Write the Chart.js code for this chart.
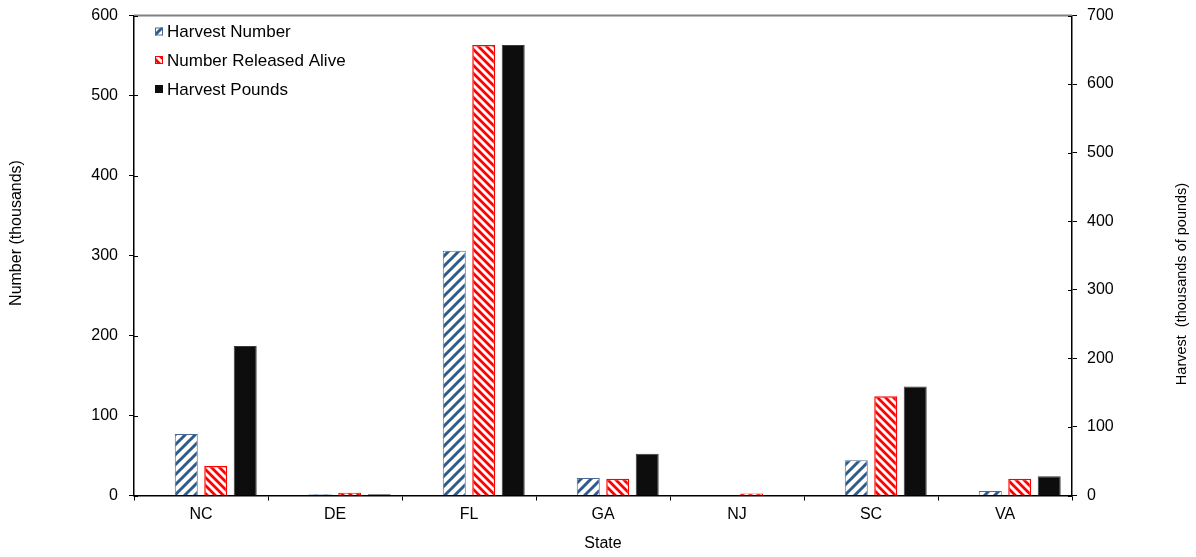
<!DOCTYPE html>
<html>
<head>
<meta charset="utf-8">
<script src="https://cdn.jsdelivr.net/npm/chart.js@4.4.1/dist/chart.umd.min.js"></script>
<style>
  html, body { margin: 0; padding: 0; background: #ffffff; }
  canvas { display: block; }
</style>
</head>
<body>
<canvas id="c" width="1196" height="557"></canvas>
<script>
// ---- data ----
const states = ["NC", "DE", "FL", "GA", "NJ", "SC", "VA"];
const harvestNumber = [77, 1.5, 306, 22, 0, 44, 5.5];      // thousands (left axis)
const releasedAlive = [37, 3.5, 563, 21, 2.5, 124, 21];    // thousands (left axis)
const harvestPounds = [218, 2, 657, 61, 0, 159, 28];       // thousands of pounds (right axis)
const leftTicks = [0, 100, 200, 300, 400, 500, 600];
const rightTicks = [0, 100, 200, 300, 400, 500, 600, 700];
const seriesNames = ["Harvest Number", "Number Released Alive", "Harvest Pounds"];
const leftTitle = "Number (thousands)";
const rightTitle = "Harvest  (thousands of pounds)";

const FONT = "'Liberation Sans', Arial, sans-serif";

function makeHatch(color, forward, size, lw) {
  const c = document.createElement('canvas');
  c.width = size; c.height = size;
  const g = c.getContext('2d');
  g.fillStyle = '#ffffff';
  g.fillRect(0, 0, size, size);
  g.strokeStyle = color;
  g.lineWidth = lw;
  g.beginPath();
  for (let k = -1; k <= 1; k++) {
    if (forward) { // "/"
      g.moveTo(k * size - 1, size + 1);
      g.lineTo(k * size + size + 1, -1);
    } else {       // "\"
      g.moveTo(k * size - 1, -1);
      g.lineTo(k * size + size + 1, size + 1);
    }
  }
  g.stroke();
  return g.createPattern(c, 'repeat');
}

const ctx = document.getElementById('c').getContext('2d');
const bluePat = makeHatch('#2E5B8C', true, 10, 3);
const redPat = makeHatch('#FF0000', false, 8, 2.8);

const decorPlugin = {
  id: 'decor',
  afterDraw(chart) {
    const g = chart.ctx;
    const area = chart.chartArea;
    g.save();
    // top border line
    g.strokeStyle = '#808080';
    g.lineWidth = 2;
    g.beginPath();
    g.moveTo(area.left, area.top);
    g.lineTo(area.right, area.top);
    g.stroke();
    // inner halves of the y tick marks (ticks cross the axis)
    g.strokeStyle = '#000';
    g.lineWidth = 1;
    g.beginPath();
    const ys = chart.scales.y, ys2 = chart.scales.y2;
    leftTicks.forEach(v => {
      const p = Math.round(ys.getPixelForValue(v)) + 0.5;
      g.moveTo(area.left, p); g.lineTo(area.left + 4, p);
    });
    rightTicks.forEach(v => {
      const p = Math.round(ys2.getPixelForValue(v)) + 0.5;
      g.moveTo(area.right - 4, p); g.lineTo(area.right, p);
    });
    g.stroke();
    // axis titles (rotated, reading bottom to top)
    g.fillStyle = '#000';
    g.textAlign = 'center';
    g.textBaseline = 'middle';
    g.font = '16px ' + FONT;
    g.save();
    g.translate(17, 233);
    g.rotate(-Math.PI / 2);
    g.fillText(leftTitle, 0, 0);
    g.restore();
    g.font = '14.5px ' + FONT;
    g.save();
    g.translate(1182, 284);
    g.rotate(-Math.PI / 2);
    g.fillText(rightTitle, 0, 0);
    g.restore();
    // legend
    const fills = [bluePat, redPat, '#0D0D0D'];
    const strokes = ['#4A6A94', '#FF0000', '#0D0D0D'];
    const ly = [31.5, 60, 89];
    g.font = '17px ' + FONT;
    g.textAlign = 'left';
    for (let i = 0; i < 3; i++) {
      g.fillStyle = fills[i];
      g.fillRect(155, ly[i] - 4, 8, 8);
      g.strokeStyle = strokes[i];
      g.lineWidth = 1;
      g.strokeRect(155.5, ly[i] - 3.5, 7, 7);
      g.fillStyle = '#000';
      g.fillText(seriesNames[i], 167, ly[i] + 1);
    }
    g.restore();
  }
};

new Chart(ctx, {
  type: 'bar',
  data: {
    labels: states,
    datasets: [
      { label: '', data: states.map(() => null), yAxisID: 'y', backgroundColor: 'rgba(0,0,0,0)' },
      { label: seriesNames[0], data: harvestNumber, yAxisID: 'y', backgroundColor: bluePat, borderColor: '#4A6A94', borderWidth: 1 },
      { label: seriesNames[1], data: releasedAlive, yAxisID: 'y', backgroundColor: redPat, borderColor: '#FF0000', borderWidth: 1.5 },
      { label: seriesNames[2], data: harvestPounds, yAxisID: 'y2', backgroundColor: '#0D0D0D', borderColor: '#3a3a3a', borderWidth: 1 }
    ]
  },
  options: {
    responsive: false,
    animation: false,
    devicePixelRatio: 1,
    datasets: { bar: { categoryPercentage: 0.88, barPercentage: 0.78 } },
    layout: { padding: { top: 15.5, left: 0, right: 0, bottom: 0 } },
    plugins: { legend: { display: false }, tooltip: { enabled: false } },
    scales: {
      x: {
        afterFit: s => { s.height = 61.5; s.paddingLeft = 0; s.paddingRight = 0; },
        grid: { offset: true, drawOnChartArea: false, tickLength: 5, color: '#000' },
        border: { color: '#000', width: 1.5 },
        ticks: { color: '#000', font: { family: FONT, size: 16 }, padding: 4 },
        title: { display: true, text: 'State', color: '#000', font: { family: FONT, size: 16 }, padding: { top: 0, bottom: 4 } }
      },
      y: {
        position: 'left',
        min: 0, max: 600,
        afterFit: s => { s.width = 134; s.paddingTop = 0; s.paddingBottom = 0; },
        afterBuildTicks: s => { s.ticks = leftTicks.map(v => ({ value: v })); },
        grid: { drawOnChartArea: false, tickLength: 5, color: '#000' },
        border: { color: '#000', width: 1.5 },
        ticks: { color: '#000', font: { family: FONT, size: 16 }, padding: 11 }
      },
      y2: {
        position: 'right',
        min: 0, max: 700,
        afterFit: s => { s.width = 124; s.paddingTop = 0; s.paddingBottom = 0; },
        afterBuildTicks: s => { s.ticks = rightTicks.map(v => ({ value: v })); },
        grid: { drawOnChartArea: false, tickLength: 5, color: '#000' },
        border: { color: '#000', width: 1.5 },
        ticks: { color: '#000', font: { family: FONT, size: 16 }, padding: 10 }
      }
    }
  },
  plugins: [decorPlugin]
});
</script>
</body>
</html>
